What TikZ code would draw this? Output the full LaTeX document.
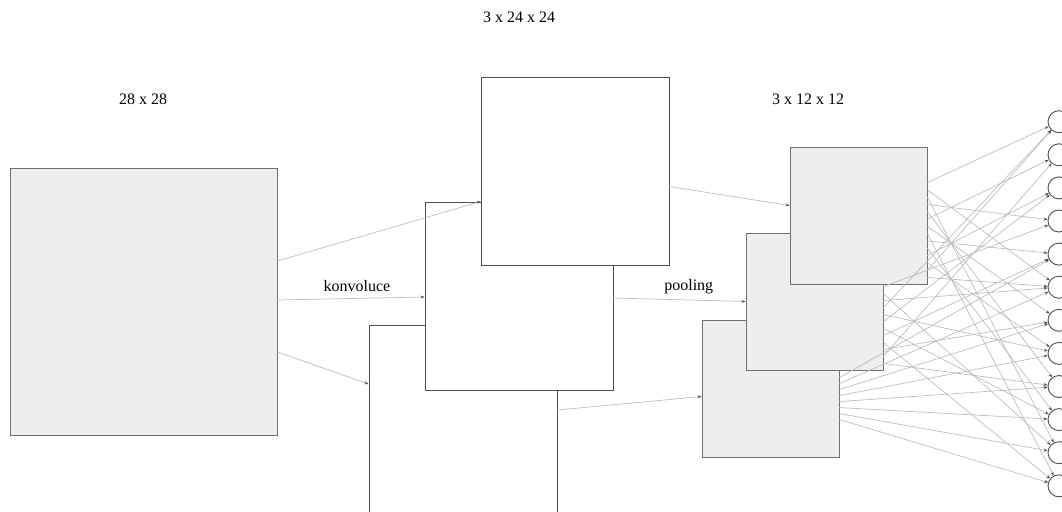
\documentclass[tikz,border=0pt]{standalone}
\usepackage{fontspec}
\setmainfont{Liberation Serif}
\usepackage{xcolor}
\usepackage{tikz}
\usetikzlibrary{arrows.meta,calc}
\definecolor{cnnLine}{HTML}{505050}
\definecolor{cnnEdge}{HTML}{707070}
\definecolor{cnnFill}{HTML}{EEEEEE}
\definecolor{cnnLink}{HTML}{BDBDBD}
\tikzset{
  fmap/.style={
    rectangle,
    draw=cnnLine,
    line width=0.9pt,
    fill=white,
    inner sep=0pt
  },
  inmap/.style={fmap, draw=cnnEdge, fill=cnnFill, minimum size=267pt},
  convmap/.style={fmap, minimum size=188pt},
  poolmap/.style={fmap, draw=cnnEdge, fill=cnnFill, minimum size=137pt},
  neuron/.style={circle, draw=cnnLine, line width=0.9pt, fill=white, minimum size=22pt, inner sep=0pt},
  dimtext/.style={font=\fontsize{16}{19}\selectfont, inner sep=0pt},
  arrow/.style={-{Stealth[length=4pt,width=3pt,cnnLine]}, draw=cnnLink, line width=0.7pt}
}

\begin{document}
\begin{tikzpicture}[x=1pt,y=-1pt]
  \useasboundingbox (0,0) rectangle (1062,511);
  \clip (0,0) rectangle (1062,511);

  % input image
  \node[inmap] (in) at (143.5,302) {};
  \node[dimtext] (inlabel) at (143,99) {28 x 28};

  % convolution maps
  \node[convmap] (c1) at (463,419) {};
  \node[convmap] (c2) at (519,296) {};
  \node[convmap] (c3) at (575,171.5) {};
  \node[dimtext] (convlabel) at (519,17) {3 x 24 x 24};

  % pooled maps
  \node[poolmap] (p1) at (770.5,388.5) {};
  \node[poolmap] (p2) at (814.5,301.5) {};
  \node[poolmap] (p3) at (858.5,215.5) {};
  \node[dimtext] (poollabel) at (808,99) {3 x 12 x 12};

  % output neurons
  \foreach \i in {0,...,11}
    \node[neuron] (n\i) at (1059,{121.7+33.1*\i}) {};

  \draw[arrow] ($(in.east)+(0,-41)$) -- ($(c3.west)+(0,30)$);
  \draw[arrow] ($(in.east)+(0,-2)$) -- node[dimtext, pos=0.54, above=6pt] {konvoluce} ($(c2.west)+(0,1)$);
  \draw[arrow] ($(in.east)+(0,50)$) -- ($(c1.west)+(0,-35)$);

  \draw[arrow] ($(c3.east)+(0,15)$) -- ($(p3.west)+(0,-10)$);
  \draw[arrow] ($(c2.east)+(0,2)$) -- node[dimtext, pos=0.57, above=6pt] {pooling} (p2.west);
  \draw[arrow] ($(c1.east)+(0,-9)$) -- ($(p1.west)+(0,8)$);

  % fully connected part
  \foreach \k in {0,...,13} {
    \pgfmathtruncatemacro\j{mod(5*\k,12)}
    \draw[arrow] ($(p3.north east)+(0,{36+7.3*\k})$) -- (n\j);
  }
  \foreach \k in {0,...,11} {
    \pgfmathtruncatemacro\j{mod(7*\k+3,12)}
    \draw[arrow] ($(p2.north east)+(0,{54+7*\k})$) -- (n\j);
  }
  \foreach \k in {0,...,7} {
    \pgfmathtruncatemacro\j{\k+4}
    \draw[arrow] ($(p1.north east)+(0,{58+6*\k})$) -- (n\j);
  }
\end{tikzpicture}
\end{document}
